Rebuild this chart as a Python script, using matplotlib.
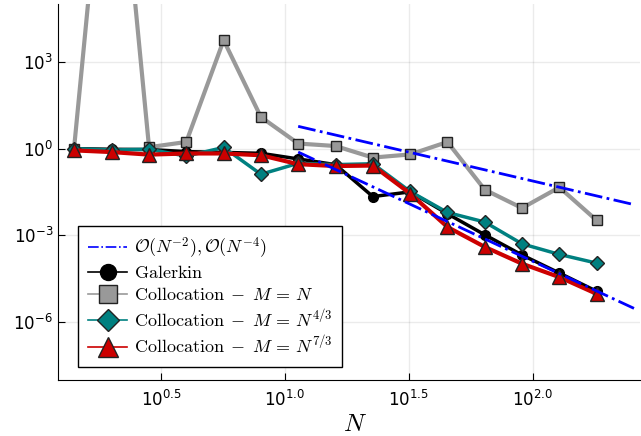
import matplotlib
matplotlib.use('Agg')
import matplotlib.pyplot as plt
import numpy as np

# N = 2^(k/2), k = 1..15
N = [1.41, 2.0, 2.83, 4.0, 5.66, 8.0, 11.31, 16.0, 22.63, 32.0, 45.25, 64.0, 90.51, 128.0, 181.02]

galerkin = [1.0, 0.95, 0.93, 0.79, 0.74, 0.69, 0.44, 0.28, 0.022, 0.032, 5.6e-3, 1.05e-3, 2.1e-4, 5.0e-5, 1.17e-5]
colloc_n = [1.0, 3e13, 1.12, 1.7, 5600.0, 12.4, 1.5, 1.23, 0.49, 0.63, 1.7, 0.038, 8.8e-3, 0.046, 3.3e-3]
colloc_43 = [1.0, 0.9, 0.95, 0.55, 1.1, 0.13, 0.31, 0.28, 0.3, 0.033, 6.2e-3, 2.9e-3, 5.1e-4, 2.2e-4, 1.1e-4]
colloc_73 = [0.87, 0.76, 0.62, 0.68, 0.68, 0.59, 0.29, 0.25, 0.26, 0.028, 1.95e-3, 4.0e-4, 1.05e-4, 3.6e-5, 9.5e-6]

# reference slopes
ref_N = [11.31, 256.0]
ref_2 = [5.9, 0.0116]
ref_4 = [0.76, 3.0e-6]

fig = plt.figure(figsize=(6.41, 4.36), dpi=100)
ax = fig.add_axes([0.0905, 0.1284, 0.9075, 0.8624])

ax.plot(ref_N, ref_2, color='#0000ff', ls='-.', lw=2, zorder=10,
        label=r'$\mathcal{O}(N^{-2}), \mathcal{O}(N^{-4})$')
ax.plot(ref_N, ref_4, color='#0000ff', ls='-.', lw=2, zorder=10)
ax.plot(N, galerkin, color='black', lw=2.5, marker='o', ms=7,
        mfc='black', mec='black', label=r'$\mathrm{Galerkin}$', zorder=3)
ax.plot(N, colloc_n, color='#999999', lw=3, marker='s', ms=7,
        mfc='#999999', mec='#222222', mew=1, label=r'$\mathrm{Collocation}\;-\;M\,=\,N$', zorder=2)
ax.plot(N, colloc_43, color='#008080', lw=2.5, marker='D', ms=7,
        mfc='#008080', mec='#222222', mew=1, label=r'$\mathrm{Collocation}\;-\;M\,=\,N^{4/3}$', zorder=4)
ax.plot(N, colloc_73, color='#cc0000', lw=3, marker='^', ms=10,
        mfc='#cc0000', mec='#222222', mew=1, label=r'$\mathrm{Collocation}\;-\;M\,=\,N^{7/3}$', zorder=5)

ax.set_xscale('log')
ax.set_yscale('log')
ax.set_xlim(1.215, 270)
ax.set_ylim(1e-8, 1e5)

xt = [10**0.5, 10**1.0, 10**1.5, 10**2.0]
yt = [1e-6, 1e-3, 1e0, 1e3]
ax.set_xticks(xt)
ax.set_xticklabels([r'$10^{0.5}$', r'$10^{1.0}$', r'$10^{1.5}$', r'$10^{2.0}$'])
ax.set_yticks(yt)
ax.set_yticklabels([r'$10^{-6}$', r'$10^{-3}$', r'$10^{0}$', r'$10^{3}$'])
ax.minorticks_off()
ax.tick_params(direction='in', length=5, labelsize=12, width=0.8)
ax.tick_params(axis='x', pad=7)
for t in ax.get_xticklabels() + ax.get_yticklabels():
    t.set_math_fontfamily('dejavusans')

ax.grid(True, color='black', alpha=0.08, lw=1)
ax.spines['top'].set_visible(False)
ax.spines['right'].set_visible(False)

ax.set_xlabel(r'$N$', fontsize=18, math_fontfamily='cm', labelpad=0)
ax.xaxis.set_label_coords(0.51, -0.085)

leg = ax.legend(loc='lower left', bbox_to_anchor=(0.034, 0.035), fontsize=13,
                fancybox=False, edgecolor='black', framealpha=1,
                handlelength=2.2, borderpad=0.55, labelspacing=0.2, handletextpad=0.35,
                borderaxespad=0)
leg.get_frame().set_linewidth(1)
for t in leg.get_texts():
    t.set_math_fontfamily('cm')
for h, ms in zip(leg.legend_handles, [0, 11.5, 13.5, 11, 14]):
    h.set_linewidth(1.2)
    if ms:
        h.set_markersize(ms)

fig.savefig('out.png', dpi=100)
